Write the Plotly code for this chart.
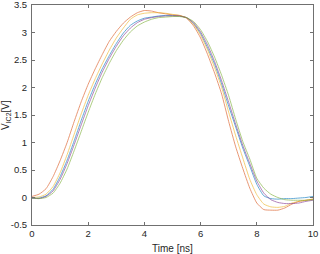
import plotly.graph_objects as go

t = [i * 0.25 for i in range(41)]

v_orange = [0.02, 0.06, 0.16, 0.38, 0.67, 1.0, 1.38, 1.74, 2.06, 2.34, 2.6, 2.84, 3.02, 3.17, 3.28, 3.36, 3.4, 3.39, 3.36, 3.34, 3.32, 3.31, 3.26, 3.12, 2.9, 2.6, 2.26, 1.88, 1.38, 0.92, 0.53, 0.17, -0.1, -0.22, -0.23, -0.23, -0.19, -0.12, -0.07, -0.05, -0.03]
v_yellow = [0.0, 0.01, 0.06, 0.2, 0.45, 0.78, 1.15, 1.52, 1.86, 2.16, 2.43, 2.68, 2.9, 3.08, 3.24, 3.32, 3.35, 3.36, 3.36, 3.35, 3.33, 3.31, 3.27, 3.15, 2.95, 2.68, 2.36, 2.0, 1.55, 1.12, 0.72, 0.33, 0.05, -0.12, -0.17, -0.18, -0.16, -0.1, -0.07, -0.05, -0.03]
v_blue = [-0.01, -0.01, 0.03, 0.15, 0.38, 0.68, 1.03, 1.4, 1.75, 2.06, 2.34, 2.58, 2.8, 2.99, 3.13, 3.21, 3.26, 3.28, 3.3, 3.31, 3.31, 3.3, 3.27, 3.16, 2.98, 2.72, 2.42, 2.06, 1.66, 1.28, 0.9, 0.57, 0.24, 0.03, -0.02, -0.03, -0.02, -0.02, -0.01, 0.0, 0.02]
v_purple = [-0.01, -0.02, 0.02, 0.12, 0.33, 0.62, 0.96, 1.32, 1.67, 1.99, 2.28, 2.53, 2.75, 2.94, 3.08, 3.18, 3.24, 3.27, 3.29, 3.3, 3.3, 3.3, 3.27, 3.18, 3.01, 2.77, 2.47, 2.12, 1.73, 1.33, 0.95, 0.62, 0.3, 0.08, -0.04, -0.09, -0.11, -0.11, -0.1, -0.07, -0.05]
v_green = [-0.01, -0.02, 0.0, 0.08, 0.26, 0.52, 0.85, 1.2, 1.55, 1.88, 2.18, 2.44, 2.67, 2.86, 3.01, 3.12, 3.19, 3.24, 3.27, 3.28, 3.29, 3.29, 3.27, 3.2, 3.05, 2.83, 2.55, 2.22, 1.85, 1.42, 1.02, 0.7, 0.35, 0.17, 0.06, 0.0, -0.04, -0.05, -0.05, -0.05, -0.04]

series = [
    (v_blue, "#0072BD"),
    (v_orange, "#D95319"),
    (v_yellow, "#EDB120"),
    (v_purple, "#7E2F8E"),
    (v_green, "#77AC30"),
]

x_ticks = [0, 2, 4, 6, 8, 10]
y_ticks = [-0.5, 0, 0.5, 1, 1.5, 2, 2.5, 3, 3.5]
y_ticklabels = ["-0.5", "0", "0.5", "1", "1.5", "2", "2.5", "3", "3.5"]

FONT = "Liberation Sans, Arial"
TXT = "#262626"

fig = go.Figure()
for vals, col in series:
    fig.add_trace(go.Scatter(x=t, y=vals, mode="lines",
                             line=dict(color=col, width=0.8, shape="spline", smoothing=0.5),
                             opacity=0.75, showlegend=False, hoverinfo="skip"))

axis_common = dict(showgrid=False, zeroline=False, showline=True, linecolor="#707070",
                   linewidth=1, mirror="ticks", ticks="inside", ticklen=3, automargin=False,
                   ticklabeloverflow="allow",
                   tickcolor="#707070", tickfont=dict(family=FONT, size=9.5, color=TXT))

fig.update_xaxes(range=[0, 10], tickvals=x_ticks, **axis_common)
fig.update_yaxes(range=[-0.5, 3.5], tickvals=y_ticks, ticktext=y_ticklabels, ticklabelstandoff=2, **axis_common)

fig.add_annotation(text="Time [ns]", xref="paper", yref="paper", x=0.5, y=0,
                   yshift=-16, xanchor="center", yanchor="top", showarrow=False,
                   font=dict(family=FONT, size=10, color=TXT))
fig.add_annotation(text="V<sub>IC2</sub>[V]", xref="paper", yref="paper", x=0, y=0.5,
                   xshift=-18, xanchor="right", yanchor="middle", textangle=-90, showarrow=False,
                   font=dict(family=FONT, size=10, color=TXT))

fig.update_layout(width=320, height=254, margin=dict(l=32, r=7, t=5, b=29),
                  plot_bgcolor="white", paper_bgcolor="white")

fig.write_html("out.html", config={"displayModeBar": False},
               post_script="document.body.style.margin='0';document.body.style.overflow='hidden';")
